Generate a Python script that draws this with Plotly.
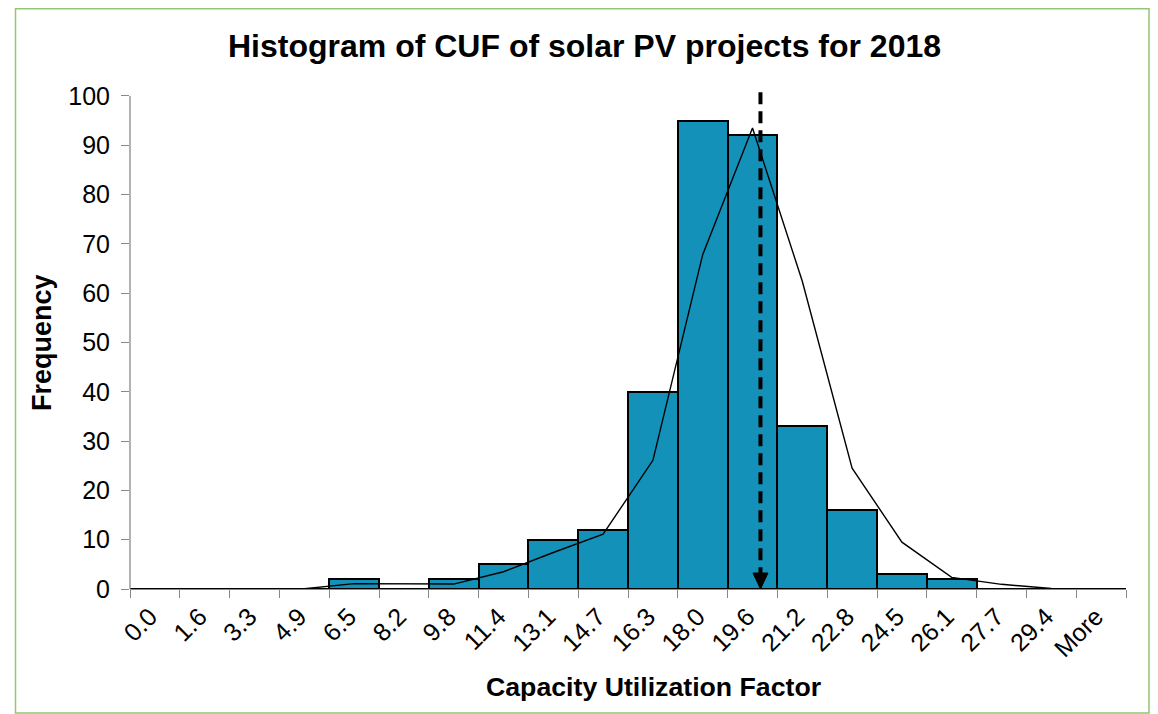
"""Histogram of CUF of solar PV projects for 2018 (Excel-style histogram)."""
import plotly.graph_objects as go

# ---- data -------------------------------------------------------------
bins = ["0.0", "1.6", "3.3", "4.9", "6.5", "8.2", "9.8", "11.4", "13.1",
        "14.7", "16.3", "18.0", "19.6", "21.2", "22.8", "24.5", "26.1",
        "27.7", "29.4", "More"]
frequency = [0, 0, 0, 0, 2, 0, 2, 5, 10, 12, 40, 95, 92, 33, 16, 3, 2, 0, 0, 0]
# fitted curve drawn over the bars (starts at the second bin)
fitted = [None, 0, 0, 0.05, 1.1, 1.0, 1.0, 3.5, 7.4, 11.1, 26.1, 67.8,
          93.5, 62.4, 24.5, 9.5, 2.35, 0.95, 0.1, 0.0]
# position of the dashed arrow (mean CUF), in bin-index units
mean_marker = 12.16
y_ticks = list(range(0, 101, 10))

# ---- styling ----------------------------------------------------------
# the page body adds an 8px margin, so the figure is 8px smaller and
# page positions are shifted by that offset
OFF = 8
W, H = 1158 - OFF, 714 - OFF
L, R, T, B = 122, 32, 79, 125
PW, PH = W - L - R, H - T - B
FONT = "Liberation Sans, Arial, sans-serif"
BAR = "#1391B9"
AXIS = "#898989"


def px(x):
    """page x pixel -> paper coordinate"""
    return (x - OFF - L) / PW


def py(y):
    """page y pixel -> paper coordinate"""
    return (H - B - (y - OFF)) / PH


fig = go.Figure()
fig.add_trace(go.Bar(
    x=bins, y=frequency,
    marker=dict(color=BAR, line=dict(color="black", width=2)),
    hoverinfo="x+y",
))
fig.add_trace(go.Scatter(
    x=bins, y=fitted, mode="lines",
    line=dict(color="black", width=1.4),
    hoverinfo="skip",
))

shapes = [
    # y axis line (only up to 100)
    dict(type="line", xref="paper", yref="y", x0=0, x1=0, y0=0, y1=100,
         line=dict(color=AXIS, width=1.3)),
    # dashed mean line
    dict(type="line", xref="x", yref="y", x0=mean_marker, x1=mean_marker,
         y0=2, y1=101.8, line=dict(color="black", width=4, dash="12px,7px")),
    # arrow head
    dict(type="path", xref="x", yref="y", xsizemode="pixel",
         ysizemode="pixel", xanchor=mean_marker, yanchor=0,
         path="M -7.5 16 L 7.5 16 L 0 0 Z",
         fillcolor="black", line=dict(color="black", width=1)),
    # green chart border
    dict(type="rect", xref="paper", yref="paper",
         x0=px(15.5), x1=px(1149), y0=py(OFF + 0.75), y1=py(713),
         line=dict(color="#93C572", width=1.5)),
]

annotations = [
    dict(text="<b>Histogram of CUF of solar PV projects for 2018</b>",
         xref="paper", yref="paper", x=px(584), y=py(46),
         xanchor="center", yanchor="middle", showarrow=False,
         font=dict(size=32, family=FONT, color="black")),
    dict(text="<b>Capacity Utilization Factor</b>",
         xref="paper", yref="paper", x=px(653), y=py(687),
         xanchor="center", yanchor="middle", showarrow=False,
         font=dict(size=26.7, family=FONT, color="black")),
    dict(text="<b>Frequency</b>", textangle=-90,
         xref="paper", yref="paper", x=px(42), y=py(343),
         xanchor="center", yanchor="middle", showarrow=False,
         font=dict(size=27, family=FONT, color="black")),
]

fig.update_layout(
    width=W, height=H,
    margin=dict(l=L, r=R, t=T, b=B),
    paper_bgcolor="white", plot_bgcolor="white",
    showlegend=False, bargap=0,
    font=dict(family=FONT, color="black"),
    shapes=shapes, annotations=annotations,
    xaxis=dict(
        type="category", tickson="boundaries", ticks="outside", ticklen=8,
        tickcolor=AXIS, tickwidth=1.3, showline=True, linecolor=AXIS,
        linewidth=1.3, showgrid=False, zeroline=False, tickangle=-45,
        ticklabelshift=-5, ticklabelstandoff=2,
        tickfont=dict(size=25, family=FONT, color="black"),
    ),
    yaxis=dict(
        range=[0, 101.8], tickvals=y_ticks, ticks="outside", ticklen=8,
        tickcolor=AXIS, tickwidth=1.3, showline=False, showgrid=False,
        zeroline=False, ticklabelstandoff=6,
        tickfont=dict(size=25, family=FONT, color="black"),
    ),
)

fig.write_html("out.html")
